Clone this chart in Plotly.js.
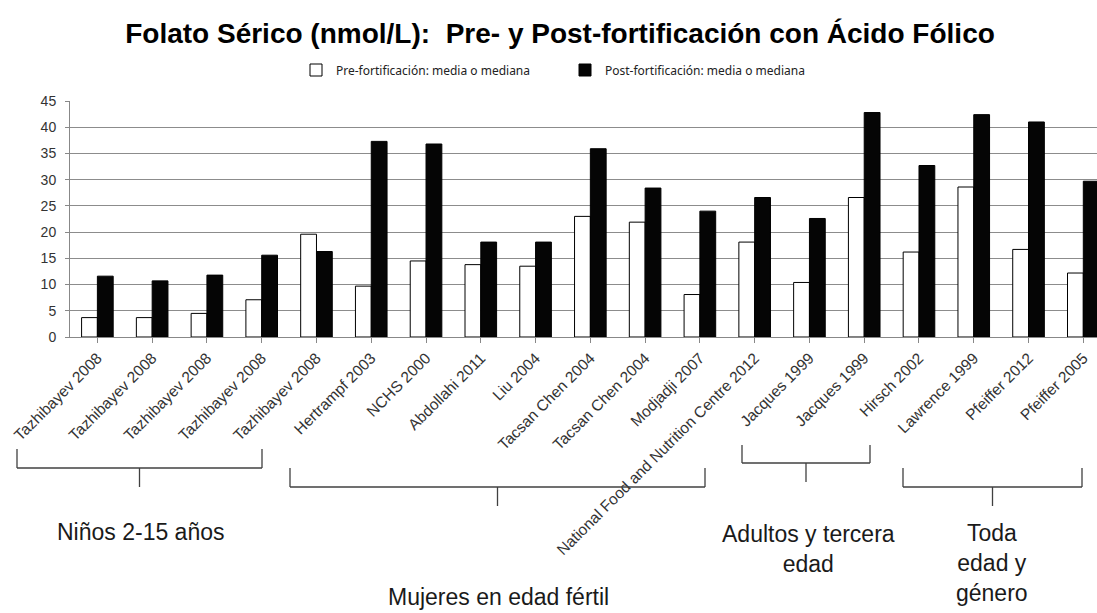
<!DOCTYPE html>
<html>
<head>
<meta charset="utf-8">
<script src="https://cdn.plot.ly/plotly-3.0.1.min.js"></script>
<style>html,body{margin:0;padding:0;background:#fff;}#chart{width:1097px;height:613px;}</style>
</head>
<body>
<div id="chart"></div>
<script>
// ---- data ----
const studies = [
  "Tazhibayev 2008", "Tazhibayev 2008", "Tazhibayev 2008", "Tazhibayev 2008", "Tazhibayev 2008",
  "Hertrampf 2003", "NCHS 2000", "Abdollahi 2011", "Liu 2004", "Tacsan Chen 2004",
  "Tacsan Chen 2004", "Modjadji 2007", "National Food and Nutrition Centre 2012",
  "Jacques 1999", "Jacques 1999", "Hirsch 2002", "Lawrence 1999", "Pfeiffer 2012", "Pfeiffer 2005"
];
const preValues  = [3.7, 3.7, 4.5, 7.1, 19.6, 9.7, 14.5, 13.8, 13.5, 23.0, 21.9, 8.1, 18.1, 10.4, 26.6, 16.2, 28.6, 16.7, 12.2];
const postValues = [11.6, 10.7, 11.8, 15.6, 16.3, 37.3, 36.8, 18.1, 18.1, 35.9, 28.4, 24.0, 26.6, 22.6, 42.8, 32.7, 42.4, 41.0, 29.7];
const seriesNames = ["Pre-fortificación: media o mediana", "Post-fortificación: media o mediana"];
const titleText = "Folato Sérico (nmol/L):  Pre- y Post-fortificación con Ácido Fólico";
const groupLabels = ["Niños 2-15 años", "Mujeres en edad fértil", "Adultos y tercera<br>edad", "Toda<br>edad y<br>género"];

// ---- layout helpers (pixel -> paper) ----
const W = 1097, H = 613, ML = 70, MR = 0, MT = 101, MB = 276;
const PW = W - ML - MR, PH = H - MT - MB;
const px = x => (x - ML) / PW;
const py = y => (H - MB - y) / PH;

const idx = studies.map((s, i) => i);

const traces = [
  {type: 'bar', x: idx, y: preValues, name: seriesNames[0],
   marker: {color: '#ffffff', line: {color: '#000000', width: 1}}},
  {type: 'bar', x: idx, y: postValues, name: seriesNames[1],
   marker: {color: '#050505', line: {color: '#000000', width: 1}}}
];

// bracket geometry: [left, right, topEnds, bar, stemBottom] in pixels
const brackets = [
  [17, 262, 449, 468, 487],
  [290, 705, 468, 487, 506],
  [742, 870, 445, 463, 482],
  [903, 1082, 468, 487, 506]
];
const shapes = [];
brackets.forEach(b => {
  const [l, r, t, m, s] = b;
  const c = (l + r) / 2;
  const line = {color: '#404040', width: 1.3};
  shapes.push({type: 'line', xref: 'paper', yref: 'paper', x0: px(l), x1: px(l), y0: py(t), y1: py(m), line});
  shapes.push({type: 'line', xref: 'paper', yref: 'paper', x0: px(r), x1: px(r), y0: py(t), y1: py(m), line});
  shapes.push({type: 'line', xref: 'paper', yref: 'paper', x0: px(l), x1: px(r), y0: py(m), y1: py(m), line});
  shapes.push({type: 'line', xref: 'paper', yref: 'paper', x0: px(c), x1: px(c), y0: py(m), y1: py(s), line});
});

const labelPos = [[141, 532], [498, 597], [808, 549], [992, 563]];
const annotations = groupLabels.map((t, i) => ({
  text: t, xref: 'paper', yref: 'paper', x: px(labelPos[i][0]), y: py(labelPos[i][1]),
  xanchor: 'center', yanchor: 'middle', showarrow: false, align: 'center',
  font: {family: 'Liberation Sans, Arial, sans-serif', size: 23, color: '#1a1a1a'}
}));

const layout = {
  width: W, height: H,
  margin: {l: ML, r: MR, t: MT, b: MB, pad: 0},
  paper_bgcolor: '#ffffff', plot_bgcolor: '#ffffff',
  title: {text: '<b>' + titleText + '</b>', xref: 'container', yref: 'container',
          x: 560 / W, y: 1 - 33 / H, xanchor: 'center', yanchor: 'middle',
          font: {family: 'Liberation Sans, Arial, sans-serif', size: 28, color: '#000'}},
  barmode: 'group', bargap: 0.423, bargroupgap: 0,
  showlegend: true,
  legend: {orientation: 'h', xref: 'paper', yref: 'paper', x: px(296), y: py(70),
           xanchor: 'left', yanchor: 'middle', entrywidth: 224, entrywidthmode: 'pixels',
           itemwidth: 30, traceorder: 'normal',
           font: {family: 'Noto Sans, sans-serif', size: 12, color: '#222'}},
  xaxis: {type: 'linear', range: [-0.5, 18.25], tickmode: 'array', tickvals: idx, ticktext: studies,
          tickangle: -45, tickson: 'boundaries', ticks: 'outside', ticklen: 5, tickcolor: '#888',
          showline: true, linecolor: '#888', linewidth: 1, showgrid: false, zeroline: false,
          fixedrange: true,
          tickfont: {family: 'Liberation Sans, Arial, sans-serif', size: 15.5, color: '#333'}},
  yaxis: {range: [0, 45], dtick: 5, tick0: 0, ticks: 'outside', ticklen: 4, tickcolor: '#888',
          showline: true, linecolor: '#888', linewidth: 1, showgrid: true, gridcolor: '#8c8c8c', gridwidth: 1,
          zeroline: false, ticklabelstandoff: 6, fixedrange: true,
          tickfont: {family: 'Liberation Sans, Arial, sans-serif', size: 14, color: '#333'}},
  shapes: shapes,
  annotations: annotations
};

Plotly.newPlot('chart', traces, layout, {displayModeBar: false, staticPlot: true});
</script>
</body>
</html>
